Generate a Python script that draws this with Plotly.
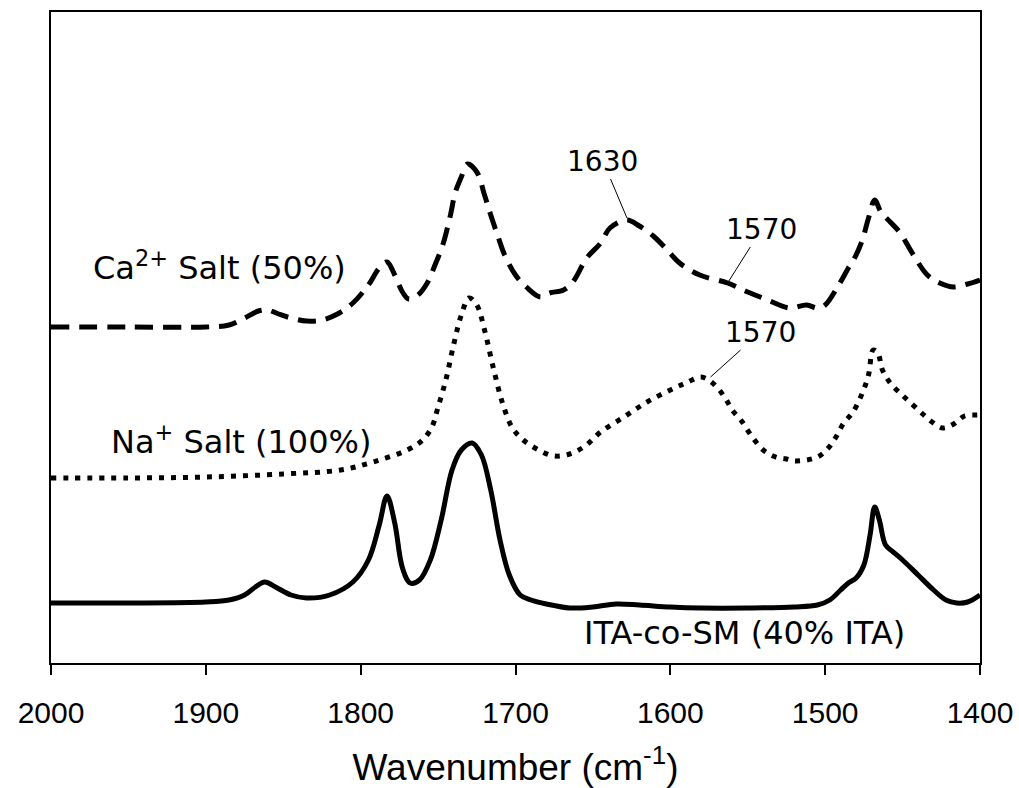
import plotly.graph_objects as go

# ---- data (wavenumber in cm^-1, absorbance in arbitrary offset units) ----
ita_wn = [2000, 1950, 1900, 1885, 1875, 1868, 1862, 1855, 1845, 1835, 1820, 1805, 1795, 1788,
          1783, 1778, 1773, 1768, 1762, 1755, 1748, 1741, 1735, 1728, 1722, 1716, 1710, 1704,
          1697, 1690, 1680, 1665, 1650, 1635, 1620, 1600, 1580, 1550, 1520, 1505, 1497, 1490,
          1485, 1480, 1475, 1471, 1468, 1465, 1461, 1456, 1450, 1440, 1430, 1422, 1415, 1408, 1400]
ita_abs = [0.60, 0.60, 0.61, 0.63, 0.68, 0.76, 0.81, 0.76, 0.68, 0.65, 0.68, 0.81, 1.03, 1.38,
           1.67, 1.40, 0.95, 0.80, 0.83, 1.03, 1.43, 1.93, 2.13, 2.20, 2.08, 1.73, 1.23, 0.88,
           0.68, 0.63, 0.59, 0.55, 0.56, 0.59, 0.58, 0.56, 0.55, 0.55, 0.56, 0.58, 0.63, 0.73,
           0.80, 0.85, 0.98, 1.28, 1.56, 1.43, 1.18, 1.11, 1.03, 0.88, 0.73, 0.63, 0.60, 0.61, 0.68]

na_wn = [2000, 1950, 1900, 1850, 1813, 1792, 1770, 1760, 1754, 1750, 1745, 1740, 1735, 1730,
         1725, 1720, 1714, 1708, 1702, 1695, 1685, 1675, 1665, 1655, 1645, 1630, 1615, 1600,
         1590, 1580, 1572, 1565, 1560, 1554, 1548, 1540, 1532, 1525, 1519, 1505, 1498, 1493,
         1488, 1482, 1476, 1472, 1469, 1466, 1463, 1458, 1451, 1444, 1437, 1431, 1424, 1417,
         1410, 1402, 1400]
na_abs = [1.85, 1.85, 1.86, 1.89, 1.93, 2.01, 2.13, 2.23, 2.36, 2.56, 2.83, 3.18, 3.48, 3.65,
          3.58, 3.33, 2.93, 2.58, 2.35, 2.23, 2.13, 2.07, 2.09, 2.17, 2.31, 2.46, 2.61, 2.73,
          2.80, 2.86, 2.79, 2.66, 2.53, 2.42, 2.28, 2.13, 2.06, 2.04, 2.02, 2.06, 2.15, 2.26,
          2.40, 2.51, 2.70, 2.88, 3.13, 3.10, 2.93, 2.80, 2.69, 2.59, 2.49, 2.41, 2.35, 2.39,
          2.47, 2.48, 2.48]

ca_wn = [2000, 1950, 1900, 1885, 1875, 1866, 1860, 1853, 1845, 1835, 1825, 1815, 1805, 1795,
         1788, 1783, 1778, 1773, 1769, 1763, 1757, 1752, 1747, 1742, 1739, 1735, 1731, 1725,
         1720, 1716, 1711, 1707, 1700, 1693, 1684, 1678, 1669, 1663, 1654, 1645, 1639, 1628,
         1620, 1611, 1602, 1594, 1581, 1563, 1550, 1537, 1523, 1512, 1505, 1500, 1492, 1485,
         1481, 1476, 1472, 1468, 1464, 1458, 1452, 1443, 1434, 1426, 1417, 1408, 1400]
ca_abs = [3.36, 3.36, 3.36, 3.38, 3.45, 3.52, 3.53, 3.49, 3.45, 3.42, 3.43, 3.49, 3.60, 3.78,
          3.95, 4.01, 3.88, 3.71, 3.64, 3.68, 3.80, 3.98, 4.18, 4.48, 4.70, 4.86, 4.99, 4.91,
          4.68, 4.48, 4.25, 4.08, 3.88, 3.76, 3.66, 3.70, 3.73, 3.81, 4.05, 4.20, 4.35, 4.43,
          4.37, 4.27, 4.13, 4.00, 3.88, 3.80, 3.71, 3.63, 3.55, 3.58, 3.55, 3.58, 3.76, 3.95,
          4.05, 4.23, 4.45, 4.63, 4.51, 4.41, 4.31, 4.08, 3.88, 3.80, 3.76, 3.79, 3.83]

x_ticks = [2000, 1900, 1800, 1700, 1600, 1500, 1400]

FONT_IN = "DejaVu Sans"
FONT_AX = "Liberation Sans, Arial, sans-serif"

fig = go.Figure()
fig.add_trace(go.Scatter(x=ca_wn, y=ca_abs, mode="lines", line_shape="spline",
                         line=dict(color="black", width=5, dash="18px,10px"), showlegend=False))
fig.add_trace(go.Scatter(x=na_wn, y=na_abs, mode="lines", line_shape="spline",
                         line=dict(color="black", width=5, dash="5px,7px"), showlegend=False))
fig.add_trace(go.Scatter(x=ita_wn, y=ita_abs, mode="lines", line_shape="spline",
                         line=dict(color="black", width=5), showlegend=False))

# curve labels
lab = dict(showarrow=False, font=dict(family=FONT_IN, size=32, color="black"),
           xref="x", yref="y")
fig.add_annotation(x=1891, y=3.97, text="Ca<sup>2+</sup> Salt (50%)", **lab)
fig.add_annotation(x=1877, y=2.23, text="Na<sup>+</sup> Salt (100%)", **lab)
fig.add_annotation(x=1552, y=0.30, text="ITA-co-SM (40% ITA)", **lab)

# peak callouts
arr = dict(showarrow=True, arrowhead=0, arrowwidth=1, arrowcolor="black", standoff=0,
           font=dict(family=FONT_IN, size=28, color="black"), xref="x", yref="y",
           axref="pixel", ayref="pixel")
fig.add_annotation(x=1628, y=4.45, text="1630", ax=-24, ay=-57, **arr)
fig.add_annotation(x=1563, y=3.80, text="1570", ax=34, ay=-54, **arr)
fig.add_annotation(x=1574, y=2.86, text="1570", ax=50, ay=-45, **arr)

fig.update_layout(
    width=1019, height=788,
    margin=dict(l=51, r=39, t=12, b=125, autoexpand=False),
    plot_bgcolor="white", paper_bgcolor="white",
    hovermode=False,
    xaxis=dict(range=[2000, 1400], tickvals=x_ticks, ticktext=[str(v) for v in x_ticks],
               showline=True, linecolor="black", linewidth=2, mirror=True,
               ticks="outside", ticklen=10, tickwidth=2, tickcolor="black",
               ticklabelstandoff=12,
               showgrid=False, zeroline=False, automargin=False,
               tickfont=dict(family=FONT_AX, size=30, color="black"),
               title=dict(text="Wavenumber (cm<sup>-1</sup>)",
                          font=dict(family=FONT_AX, size=37, color="black"), standoff=26)),
    yaxis=dict(range=[0, 6.51], showline=True, linecolor="black", linewidth=2, mirror=True,
               showticklabels=False, ticks="", showgrid=False, zeroline=False,
               automargin=False),
)

fig.write_html("out.html", config={"displayModeBar": False},
               post_script="document.body.style.margin='0';document.body.style.overflow='hidden';")
